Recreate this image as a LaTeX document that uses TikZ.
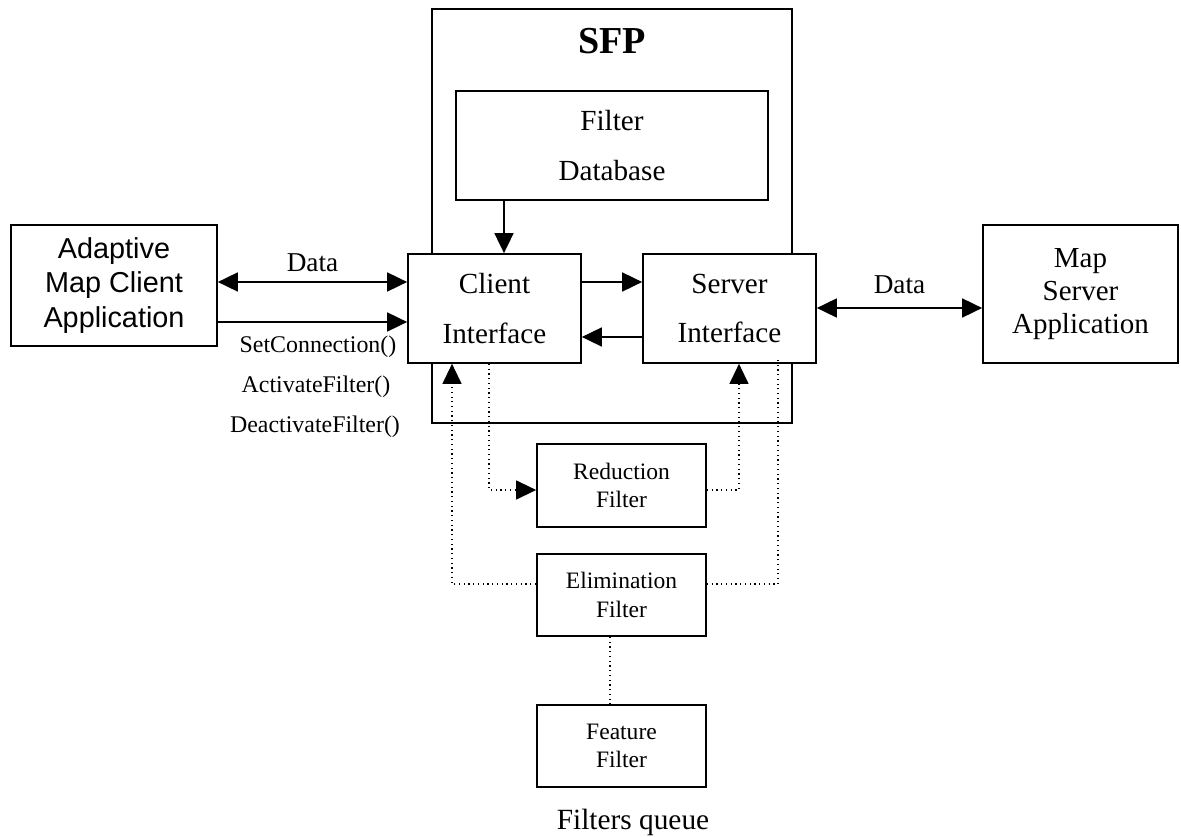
\documentclass[tikz,border=0pt]{standalone}
\usepackage{fontspec}
\setmainfont{Liberation Serif}
\newfontfamily\arialfont{Liberation Sans}
\usetikzlibrary{arrows.meta}

\tikzset{
  block/.style={draw, line width=1pt, fill=white, align=center, inner sep=0pt},
  bigtext/.style={font=\fontsize{16.6}{28.3}\selectfont},
  filtertext/.style={font=\fontsize{13.4}{16.4}\selectfont},
  calltext/.style={font=\fontsize{13.6}{16}\selectfont},
  dots/.style={dotted, line width=0.7pt},
}

\begin{document}
\begin{tikzpicture}[x=0.02cm, y=-0.02cm, >={Triangle[length=0.4cm, width=0.38cm]}, line width=1pt]
  \useasboundingbox (0,0) rectangle (1181,837);

  % SFP frame
  \node [draw, line width=1pt, minimum width=7.2cm, minimum height=8.28cm] (sfp) at (612,216) {};
  \node [font=\fontsize{21.7}{24}\selectfont\bfseries] (sfptitle) at (612,41) {SFP};

  % Define blocks
  \node [block, bigtext, minimum width=6.24cm, minimum height=2.18cm] (fdb) at (612,145.5) {Filter\\Database};
  \node [block, bigtext, minimum width=3.46cm, minimum height=2.18cm] (client) at (494.5,308.5) {Client\\Interface};
  \node [block, bigtext, minimum width=3.46cm, minimum height=2.18cm] (server) at (729.5,308.5) {Server\\Interface};
  \node [block, font=\arialfont\fontsize{16.4}{19.8}\selectfont, minimum width=4.12cm, minimum height=2.42cm] (amc) at (114,285.5) {Adaptive\\Map Client\\Application};
  \node [block, font=\fontsize{16.5}{18.7}\selectfont, minimum width=3.9cm, minimum height=2.76cm] (msa) at (1080.5,294) {Map\\Server\\Application};
  \node [block, filtertext, minimum width=3.38cm, minimum height=1.66cm] (reduction) at (621.5,485.5) {Reduction\\Filter};
  \node [block, filtertext, minimum width=3.38cm, minimum height=1.64cm] (elimination) at (621.5,595) {Elimination\\Filter};
  \node [block, filtertext, minimum width=3.38cm, minimum height=1.64cm] (feature) at (621.5,746) {Feature\\Filter};

  % Labels
  \node [calltext] (setconn) at (318,347) {SetConnection()};
  \node [calltext] (actfilter) at (316,387) {ActivateFilter()};
  \node [calltext] (deactfilter) at (315,427) {DeactivateFilter()};
  \node [font=\fontsize{16.7}{20}\selectfont] (queue) at (633,822) {Filters queue};

  % Connect blocks with arrows
  \draw [<->] ([yshift=0.53cm]client.west -| amc.east) -- node[midway, above, font=\fontsize{15.5}{18}\selectfont, yshift=2pt] {Data} ([yshift=0.53cm]client.west);
  \draw [->] ([yshift=-0.27cm]client.west -| amc.east) -- ([yshift=-0.27cm]client.west);
  \draw [->] ([yshift=0.53cm]client.east) -- ([yshift=0.53cm]client.east -| server.west);
  \draw [->] ([yshift=-0.57cm]server.west) -- ([yshift=-0.57cm]server.west -| client.east);
  \draw [->] ([xshift=0.19cm]client.north |- fdb.south) -- ([xshift=0.19cm]client.north);
  \draw [<->] ([yshift=0.01cm]server.east) -- node[midway, above, font=\fontsize{15.5}{18}\selectfont, yshift=4pt] {Data} ([yshift=0.01cm]server.east -| msa.west);

  % Filter queue links
  \draw [dots, ->] ([xshift=-0.11cm]client.south) |- ([yshift=-0.09cm]reduction.west);
  \draw [dots, ->] ([yshift=-0.09cm]reduction.east) -| ([xshift=0.19cm]server.south);
  \draw [dots, ->] ([yshift=0.22cm]elimination.west) -| ([xshift=-0.85cm]client.south);
  \draw [dots] ([yshift=0.22cm]elimination.east) -| ([xshift=0.97cm, yshift=0.1cm]server.south);
  \draw [dots] ([xshift=-0.23cm]elimination.south) -- ([xshift=-0.23cm]feature.north);
\end{tikzpicture}
\end{document}
